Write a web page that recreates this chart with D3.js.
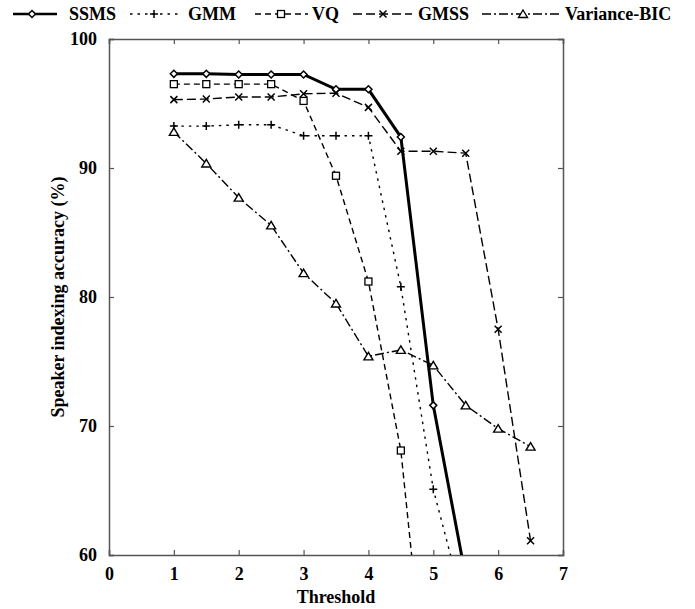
<!DOCTYPE html>
<html><head><meta charset="utf-8">
<script src="https://cdn.jsdelivr.net/npm/d3@7"></script>
<style>body{margin:0;background:#fff}svg{display:block}text{font-family:"Liberation Serif","Times New Roman",serif;font-weight:bold}</style>
</head><body>
<svg id="c" width="695" height="609"></svg>
<script>
const thresholds = [1, 1.5, 2, 2.5, 3, 3.5, 4, 4.5, 5, 5.5, 6, 6.5];
const ssms = [97.3, 97.3, 97.25, 97.25, 97.25, 96.1, 96.1, 92.4, 71.6, 58.3];
const gmm = [93.25, 93.25, 93.35, 93.35, 92.5, 92.5, 92.5, 80.8, 65.1, 55.5];
const vq = [96.5, 96.5, 96.5, 96.5, 95.2, 89.4, 81.2, 68.1, 43.7];
const gmss = [95.3, 95.35, 95.5, 95.5, 95.75, 95.8, 94.7, 91.3, 91.3, 91.15, 77.5, 61.1];
const vbic = [92.8, 90.35, 87.7, 85.55, 81.85, 79.5, 75.4, 75.9, 74.7, 71.6, 69.8, 68.4];
const seriesNames = ["SSMS", "GMM", "VQ", "GMSS", "Variance-BIC"];
const xTicks = [0, 1, 2, 3, 4, 5, 6, 7];
const yTicks = [60, 70, 80, 90, 100];

const svg = d3.select("#c");
const L = 109, R = 563, T = 39, B = 555;
const x = d3.scaleLinear().domain([0, 7]).range([L, R]);
const y = d3.scaleLinear().domain([60, 100]).range([B, T]);

svg.append("defs").append("clipPath").attr("id", "clip")
  .append("rect").attr("x", L).attr("y", T - 6).attr("width", R - L).attr("height", B - T + 6);

const axColor = "#555";
const ax = svg.append("g");
ax.append("g").attr("transform", `translate(0,${B})`)
  .call(d3.axisBottom(x).tickValues(xTicks).tickSize(-5).tickPadding(12).tickFormat(d3.format("d")));
ax.append("g").attr("transform", `translate(0,${T})`)
  .call(d3.axisTop(x).tickValues(xTicks).tickSize(-5).tickFormat(""));
ax.append("g").attr("transform", `translate(${L},0)`)
  .call(d3.axisLeft(y).tickValues(yTicks).tickSize(-5).tickPadding(12).tickFormat(d3.format("d")));
ax.append("g").attr("transform", `translate(${R},0)`)
  .call(d3.axisRight(y).tickValues(yTicks).tickSize(-5).tickFormat(""));
ax.selectAll(".domain").attr("stroke", axColor).attr("stroke-width", 1.5);
ax.selectAll(".tick line").attr("stroke", axColor).attr("stroke-width", 1.2);
ax.selectAll(".tick text").attr("font-size", 18).attr("fill", "#000")
  .style("font-family", '"Liberation Serif",serif').style("font-weight", "bold");

svg.append("text").attr("x", (L + R) / 2).attr("y", 603).attr("text-anchor", "middle")
  .attr("font-size", 18).text("Threshold");
svg.append("text").attr("transform", `translate(64,${(T + B) / 2}) rotate(-90)`)
  .attr("text-anchor", "middle").attr("font-size", 18).text("Speaker indexing accuracy (%)");

const styles = [
  {data: ssms, dash: null, w: 3, marker: "diamond"},
  {data: gmm, dash: "2.5,5", w: 1.4, marker: "plus"},
  {data: vq, dash: "6,4", w: 1.4, marker: "square"},
  {data: gmss, dash: "9,4", w: 1.4, marker: "cross"},
  {data: vbic, dash: "9,3,2,3", w: 1.4, marker: "triangle"}
];

function drawMarker(g, type, cx, cy) {
  if (type === "diamond") {
    const s = 3.5;
    g.append("path").attr("d", `M${cx},${cy - s}L${cx + s},${cy}L${cx},${cy + s}L${cx - s},${cy}Z`)
      .attr("fill", "#fff").attr("stroke", "#000").attr("stroke-width", 1.5);
  } else if (type === "plus") {
    const s = 4;
    g.append("path").attr("d", `M${cx - s},${cy}H${cx + s}M${cx},${cy - s}V${cy + s}`)
      .attr("stroke", "#000").attr("stroke-width", 1.5).attr("fill", "none");
  } else if (type === "square") {
    g.append("rect").attr("x", cx - 3.5).attr("y", cy - 3.5).attr("width", 7).attr("height", 7)
      .attr("fill", "#fff").attr("stroke", "#000").attr("stroke-width", 1.3);
  } else if (type === "cross") {
    const s = 3.5;
    g.append("path").attr("d", `M${cx - s},${cy - s}L${cx + s},${cy + s}M${cx - s},${cy + s}L${cx + s},${cy - s}`)
      .attr("stroke", "#000").attr("stroke-width", 1.5).attr("fill", "none");
  } else if (type === "triangle") {
    g.append("path").attr("d", `M${cx},${cy - 4}L${cx + 4.5},${cy + 3.5}L${cx - 4.5},${cy + 3.5}Z`)
      .attr("fill", "#fff").attr("stroke", "#000").attr("stroke-width", 1.4);
  }
}

const plot = svg.append("g").attr("clip-path", "url(#clip)");
const line = d3.line().x(d => x(d[0])).y(d => y(d[1]));
styles.forEach(st => {
  const pts = st.data.map((v, i) => [thresholds[i], v]);
  plot.append("path").datum(pts).attr("d", line).attr("fill", "none").attr("stroke", "#000")
    .attr("stroke-width", st.w).attr("stroke-dasharray", st.dash);
  const mg = plot.append("g");
  pts.filter(p => p[1] >= 60).forEach(p => drawMarker(mg, st.marker, x(p[0]), y(p[1])));
});

// legend
const legendItems = [
  {x1: 13, x2: 57, tx: 69},
  {x1: 130, x2: 182, tx: 188},
  {x1: 255, x2: 308, tx: 312},
  {x1: 353, x2: 412, tx: 418},
  {x1: 482, x2: 562, tx: 565}
];
const markerX = [32, 154, 281, 383, 523];
const ly = 14;
const lg = svg.append("g");
legendItems.forEach((li, i) => {
  const st = styles[i];
  lg.append("line").attr("x1", li.x1).attr("x2", li.x2).attr("y1", ly).attr("y2", ly)
    .attr("stroke", "#000").attr("stroke-width", i === 0 ? 2.5 : 1.3).attr("stroke-dasharray", st.dash);
  drawMarker(lg, st.marker, markerX[i], ly);
  lg.append("text").attr("x", li.tx).attr("y", ly + 6).attr("font-size", 18).text(seriesNames[i]);
});
</script>
</body></html>
